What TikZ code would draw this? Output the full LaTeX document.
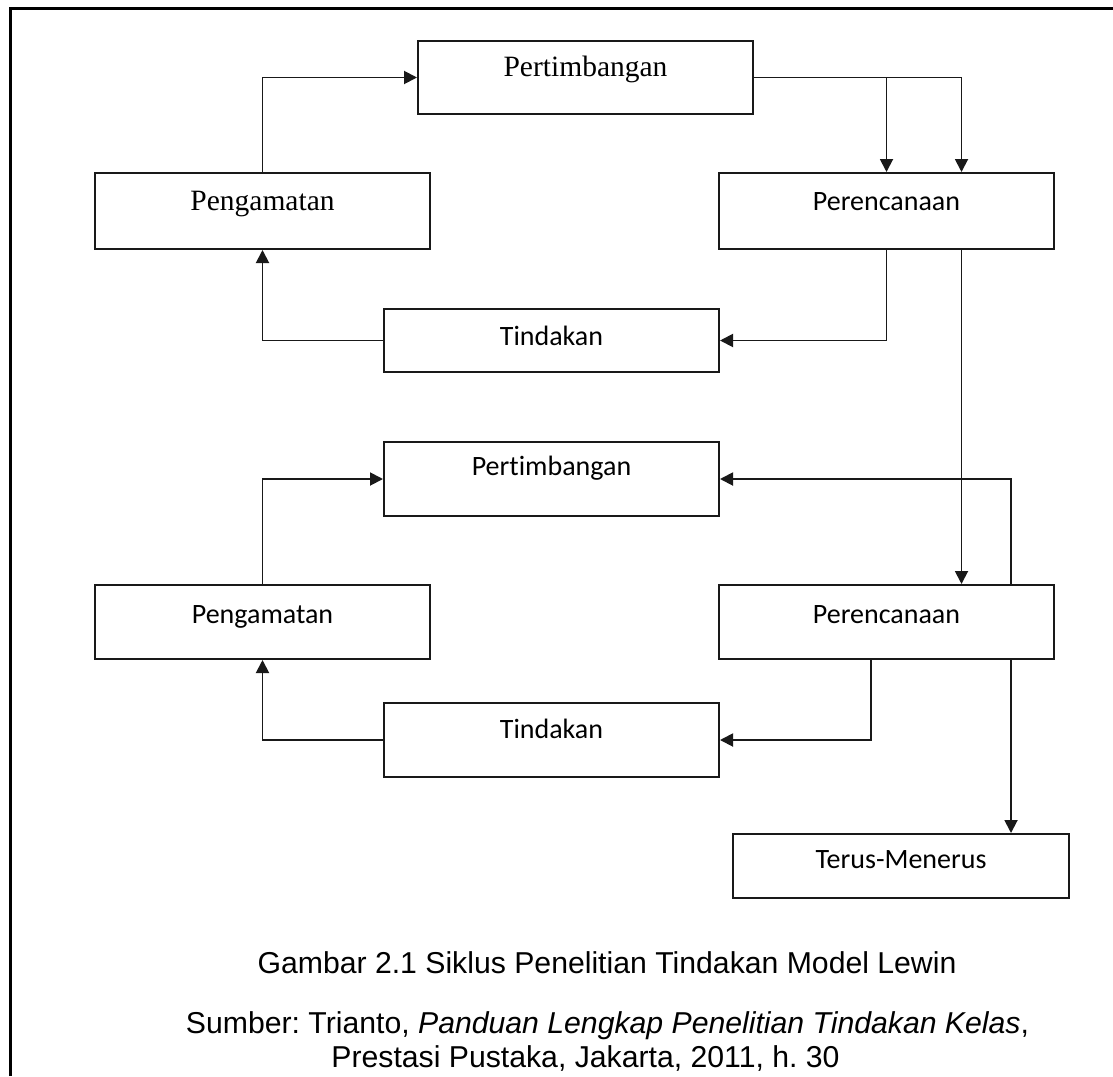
\documentclass[tikz,border=0pt]{standalone}
\usepackage{fontspec}
\newfontfamily\calib[Ligatures=NoCommon]{Carlito}
\newfontfamily\timesf{Liberation Serif}
\newfontfamily\arialf{Liberation Sans}
\usetikzlibrary{arrows.meta}
\frenchspacing
\begin{document}
\begin{tikzpicture}[x=1pt,y=-1pt,
  box/.style={draw=black!90, line width=2pt, inner sep=0pt, anchor=north west, align=center},
  bx/.style n args={3}{box, minimum width=#1, text height=#2, text depth=#3},
  serif/.style={font=\timesf\fontsize{29.5}{34}\selectfont},
  sans/.style={font=\calib\fontsize{28}{33}\selectfont},
  captxt/.style={font=\arialf\fontsize{30.2}{36}\selectfont, inner sep=0pt, anchor=base},
  arr/.style={draw=black!90, line width=1.9pt, -{Triangle[length=13pt,width=13pt]}}]
\useasboundingbox (0,0) rectangle (1113,1076);
% page frame (left and top edges only)
\draw[line width=3pt, line join=miter] (10.7,1076) -- (10.7,8) -- (1113,8);

% first cycle
\node[bx={335pt}{35pt}{38pt}, serif] (P1) at (417,40) {Pertimbangan};
\node[bx={335pt}{37pt}{39pt}, serif] (G1) at (94,172) {Pengamatan};
\node[bx={335pt}{37pt}{39pt}, sans] (R1) at (718,172) {Perencanaan};
\node[bx={335pt}{36pt}{27pt}, sans] (T1) at (383,308) {Tindakan};

% second cycle
\node[bx={335pt}{33pt}{41pt}, sans] (P2) at (383,441) {Pertimbangan};
\node[bx={335pt}{38pt}{36pt}, sans] (G2) at (94,584) {Pengamatan};
\node[bx={335pt}{38pt}{36pt}, sans] (R2) at (718,584) {Perencanaan};
\node[bx={335pt}{35pt}{39pt}, sans] (T2) at (383,702) {Tindakan};
\node[bx={336pt}{34pt}{30pt}, sans] (TM) at (732,833) {Terus-Menerus};

% connectors, first cycle
\draw[arr] (G1.north) |- (P1.west);
\draw[arr] (P1.east) -| (R1.north);
\draw[arr] (P1.east) -| ([xshift=75pt]R1.north);
\draw[arr] (R1.south) |- (T1.east);
\draw[arr] (T1.west) -| (G1.south);
\draw[arr] ([xshift=75pt]R1.south) -- ([xshift=75pt]R2.north);

% connectors, second cycle
\draw[arr] (G2.north) |- (P2.west);
\draw[arr] ([xshift=124.5pt]R2.north) |- (P2.east);
\draw[arr] ([xshift=-15.5pt]R2.south) |- (T2.east);
\draw[arr] (T2.west) -| (G2.south);
\draw[arr] ([xshift=124.5pt]R2.south) -- ([xshift=124.5pt]R2.south |- TM.north);

% caption
\node[captxt] (c1) at (607,973) {Gambar 2.1 Siklus Penelitian Tindakan Model Lewin};
\node[captxt] (c2) at (607.5,1033) {Sumber: Trianto, \textit{Panduan Lengkap Penelitian Tindakan Kelas},};
\node[captxt] (c3) at (585.5,1067) {Prestasi Pustaka, Jakarta, 2011, h. 30};
\end{tikzpicture}
\end{document}
